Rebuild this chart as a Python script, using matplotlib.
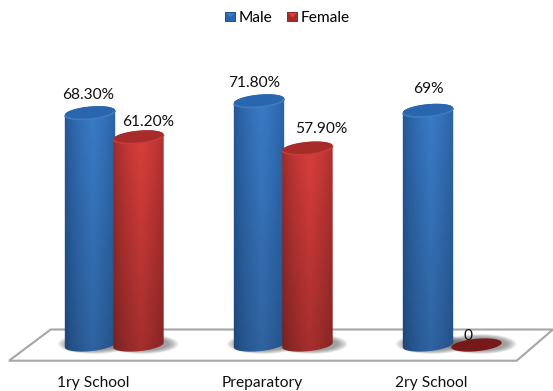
import numpy as np
import matplotlib
matplotlib.use("Agg")
import matplotlib.pyplot as plt
from matplotlib.legend_handler import HandlerBase
from matplotlib.patches import Ellipse, PathPatch, Polygon, Rectangle
from matplotlib.path import Path

# Chart values
categories = ["1ry School", "Preparatory", "2ry School"]
male = [68.3, 71.8, 69.0]
female = [61.2, 57.9, 0.0]
male_labels = ["68.30%", "71.80%", "69%"]
female_labels = ["61.20%", "57.90%", "0"]

# Layout, in figure pixels
WIDTH, HEIGHT = 553, 391
PX_PER_CATEGORY = 169.0
PX_PER_UNIT = 3.4
ORIGIN_X, BASE_Y, AXES_BOTTOM = 93.0, 345.0, 373.0
MALE_SHIFT, FEMALE_SHIFT = -3.0, 45.5
RADIUS_X, RADIUS_Y, TILT = 25.3, 6.2, np.radians(5.5)
MALE_LABEL_OFFSET = [(-1.5, 18), (-5, 18), (0, 21)]
FEMALE_LABEL_OFFSET = [(10, 15), (14, 19), (-9, 9)]
FONT_SIZE = 11.2

BLUE = dict(edge="#22528f", light="#3a7cc8", cap="#2a66ad", rim="#3e7cc2", deep=0.8)
RED = dict(edge="#94282a", light="#dc3f3c", cap="#a62c2a", rim="#c63c39", deep=0.74)

plt.rcParams["font.family"] = ["Lato", "DejaVu Sans"]
fig = plt.figure(figsize=(WIDTH / 100, HEIGHT / 100), dpi=100)
ax = fig.add_axes([0, 1 - AXES_BOTTOM / HEIGHT, 1, AXES_BOTTOM / HEIGHT])


def data_x(px):
    return (px - ORIGIN_X) / PX_PER_CATEGORY


def data_y(py):
    return (BASE_Y - py) / PX_PER_UNIT


def hex_rgb(color):
    return np.array(matplotlib.colors.to_rgb(color))


def ellipse_points(cx, value, theta):
    """Points of a tilted end cap around (cx, value), in data coordinates."""
    ex = RADIUS_X * np.cos(theta) * np.cos(TILT) - RADIUS_Y * np.sin(theta) * np.sin(TILT)
    ey = RADIUS_X * np.cos(theta) * np.sin(TILT) + RADIUS_Y * np.sin(theta) * np.cos(TILT)
    return np.column_stack([cx + ex / PX_PER_CATEGORY, value + ey / PX_PER_UNIT])


def ground_shadow(cx):
    # Soft contact shadow built from stacked translucent ellipses
    for grow in np.linspace(22, 2, 12):
        ax.add_patch(Ellipse((cx + 4 / PX_PER_CATEGORY, 0.3),
                             (2 * RADIUS_X + grow) / PX_PER_CATEGORY,
                             (2 * RADIUS_Y + grow * 0.35) / PX_PER_UNIT,
                             angle=0, fc="#505050", ec="none", alpha=0.06, zorder=2))


def cylinder(cx, value, style, z):
    if value <= 0:
        pts = ellipse_points(cx, 0, np.linspace(0, 2 * np.pi, 80))
        ax.add_patch(Polygon(pts, closed=True, fc="#751a18", ec="none", zorder=z))
        return
    lower = ellipse_points(cx, 0, np.linspace(np.pi, 2 * np.pi, 50))
    upper = ellipse_points(cx, value, np.linspace(0, np.pi, 50))
    outline = np.vstack([lower, upper, lower[:1]])
    codes = [Path.MOVETO] + [Path.LINETO] * (len(outline) - 2) + [Path.CLOSEPOLY]
    clip = PathPatch(Path(outline, codes), transform=ax.transData, fc="none", ec="none")
    ax.add_patch(clip)

    # Horizontal shading across the round body, darkening towards the base
    t = np.linspace(0, 1, 60)
    shade = np.clip(1 - np.abs(t - 0.55) / 0.55, 0, 1) ** 0.6
    rows = np.linspace(1.0, style["deep"], 60)[::-1]
    edge, light = hex_rgb(style["edge"]), hex_rgb(style["light"])
    strip = edge + (light - edge) * shade[:, None]
    image = rows[:, None, None] * strip[None, :, :]
    half = (RADIUS_X + 1) / PX_PER_CATEGORY
    extra = (RADIUS_Y + 5) / PX_PER_UNIT
    im = ax.imshow(image, extent=[cx - half, cx + half, -extra, value + extra],
                   origin="lower", aspect="auto", interpolation="bilinear", zorder=z)
    im.set_clip_path(clip)

    cap = ellipse_points(cx, value, np.linspace(0, 2 * np.pi, 80))
    ax.add_patch(Polygon(cap, closed=True, fc=style["cap"], ec="none", zorder=z + 0.1))
    rim = ellipse_points(cx, value, np.linspace(np.pi * 1.05, np.pi * 1.95, 40))
    ax.plot(rim[:, 0], rim[:, 1], color=style["rim"], lw=1.2, zorder=z + 0.2)


# Floor plane under the cylinders
floor = [(9, 360.7), (50.7, 329.5), (553, 329.5), (516.7, 360.7)]
ax.add_patch(Polygon([(data_x(x), data_y(y)) for x, y in floor], closed=True,
                     fc="white", ec="#a6a6a6", lw=1.5, zorder=1, clip_on=False))

male_x = np.arange(len(categories)) + MALE_SHIFT / PX_PER_CATEGORY
female_x = np.arange(len(categories)) + FEMALE_SHIFT / PX_PER_CATEGORY

for i in range(len(categories)):
    ground_shadow(male_x[i])
    ground_shadow(female_x[i])
for i in range(len(categories)):
    cylinder(female_x[i], female[i], RED, 3 if female[i] == 0 else 4)
    cylinder(male_x[i], male[i], BLUE, 3.5)

for xs, values, texts, offsets in [(male_x, male, male_labels, MALE_LABEL_OFFSET),
                                   (female_x, female, female_labels, FEMALE_LABEL_OFFSET)]:
    for x, v, s, (dx, dy) in zip(xs, values, texts, offsets):
        ax.text(x + dx / PX_PER_CATEGORY, v + dy / PX_PER_UNIT, s, ha="center", va="center",
                fontsize=FONT_SIZE, color="#111111", zorder=6)


class GradientSquare(HandlerBase):
    """Legend key: a small square with a lighter upper band."""

    def create_artists(self, legend, orig, xd, yd, w, h, fontsize, trans):
        style = orig.get_gid()
        s = min(w, h)
        pal = BLUE if style == "blue" else RED
        base = Rectangle((xd, -yd), s, s, fc=pal["edge"], ec="none", transform=trans)
        mid = Rectangle((xd + 0.1 * s, -yd + 0.1 * s), 0.8 * s, 0.8 * s,
                        fc=pal["cap"], ec="none", transform=trans)
        top = Polygon([(xd + 0.12 * s, -yd + 0.88 * s), (xd + 0.88 * s, -yd + 0.88 * s),
                       (xd + 0.5 * s, -yd + 0.45 * s)], closed=True,
                      fc=pal["light"], ec="none", transform=trans)
        return [base, mid, top]


male_key = Rectangle((0, 0), 1, 1, gid="blue")
female_key = Rectangle((0, 0), 1, 1, gid="red")
fig.legend([male_key, female_key], ["Male", "Female"],
           handler_map={Rectangle: GradientSquare()}, ncol=2, frameon=False, fontsize=FONT_SIZE,
           loc="center", bbox_to_anchor=(287.5 / WIDTH, 1 - 18.5 / HEIGHT),
           handlelength=0.68, handleheight=0.68, handletextpad=0.2, columnspacing=0.95,
           borderpad=0, borderaxespad=0)

ax.set_xlim(data_x(0), data_x(WIDTH))
ax.set_ylim(data_y(AXES_BOTTOM), data_y(0))
ax.set_xticks(range(len(categories)))
ax.set_xticklabels(categories, fontsize=FONT_SIZE, color="#111111")
ax.set_yticks([])
ax.tick_params(axis="x", length=0, pad=2)
for spine in ax.spines.values():
    spine.set_visible(False)
ax.patch.set_alpha(0)

fig.savefig("out.png", dpi=100, facecolor="white")
